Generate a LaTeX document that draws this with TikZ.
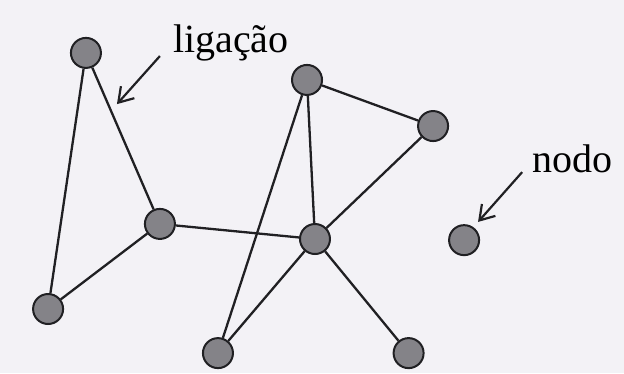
\documentclass[tikz,border=0pt]{standalone}
\usepackage{fontspec}
\setmainfont{Liberation Serif}
\usetikzlibrary{arrows.meta}

\definecolor{paper}{RGB}{243,242,246}
\definecolor{ink}{RGB}{32,32,35}
\definecolor{dotgray}{RGB}{132,131,136}

\begin{document}
\begin{tikzpicture}[
    dot/.style={circle,draw=ink,fill=dotgray,line width=2pt,
                minimum size=30pt,inner sep=0pt},
    link/.style={draw=ink,line width=2.3pt},
    label/.style={inner sep=0pt,anchor=base west,text=black,
                  font=\fontsize{40}{48}\selectfont},
    >={Straight Barb[length=14pt,width=18pt]}]
\fill [paper] (0,0) rectangle (21.93,13.11);
\useasboundingbox (0,0) rectangle (21.93,13.11);

\node [dot] (n1) at ( 3.02,11.25) {};
\node [dot] (n2) at ( 5.62, 5.24) {};
\node [dot] (n3) at ( 1.69, 2.25) {};
\node [dot] (n4) at (10.79,10.30) {};
\node [dot] (n5) at (15.22, 8.68) {};
\node [dot] (n6) at (11.07, 4.71) {};
\node [dot] (n7) at (16.31, 4.67) {};
\node [dot] (n8) at ( 7.66, 0.70) {};
\node [dot] (n9) at (14.36, 0.70) {};

\node [label] (ligacao) at ( 6.08,11.28) {ligação};
\node [label] (nodo)    at (18.70, 7.03) {nodo};

\coordinate (ligtail) at ( 5.62,11.14);
\coordinate (ligtip)  at ( 4.11, 9.45);
\coordinate (nodtail) at (18.35, 7.06);
\coordinate (nodtip)  at (16.80, 5.31);

\begin{scope}[on background layer/.try]
\draw [link] (n1) -- (n2);
\draw [link] (n1) -- (n3);
\draw [link] (n3) -- (n2);
\draw [link] (n2) -- (n6);
\draw [link] (n4) -- (n6);
\draw [link] (n4) -- (n8);
\draw [link] (n4) -- (n5);
\draw [link] (n5) -- (n6);
\draw [link] (n6) -- (n8);
\draw [link] (n6) -- (n9);
\end{scope}

\draw [->,ink,line width=2.2pt] (ligtail) -- (ligtip);
\draw [->,ink,line width=2.2pt] (nodtail) -- (nodtip);
\end{tikzpicture}
\end{document}
